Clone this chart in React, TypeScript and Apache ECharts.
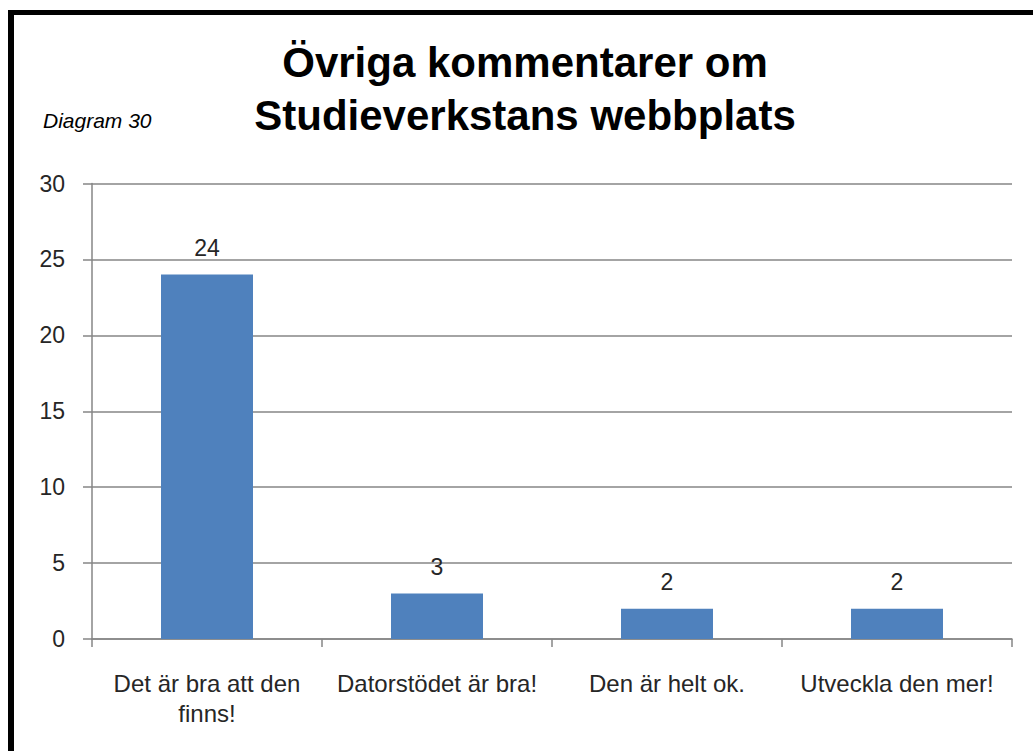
import React, { useEffect, useRef } from "react";
import * as echarts from "echarts";

const categories = [
  "Det är bra att den\nfinns!",
  "Datorstödet är bra!",
  "Den är helt ok.",
  "Utveckla den mer!",
];
const values = [24, 3, 2, 2];
const yTicks = { min: 0, max: 30, interval: 5 };
const titleLines = ["Övriga kommentarer om", "Studieverkstans webbplats"];
const subLabel = "Diagram 30";

export default function App() {
  const ref = useRef<HTMLDivElement>(null);
  useEffect(() => {
    document.body.style.margin = "0";
    const chart = echarts.init(ref.current!, null, { renderer: "svg" });
    const font = "'Liberation Sans', Arial, sans-serif";
    chart.setOption({
      animation: false,
      backgroundColor: "#ffffff",
      textStyle: { fontFamily: font },
      graphic: [
        { type: "rect", shape: { x: 8, y: 10, width: 6, height: 741 }, style: { fill: "#000" } },
        { type: "rect", shape: { x: 8, y: 10, width: 1025, height: 5 }, style: { fill: "#000" } },
        {
          type: "text",
          x: 525,
          y: 83,
          style: {
            text: titleLines[0],
            font: `bold 42px ${font}`,
            fill: "#000",
            align: "center",
            verticalAlign: "bottom",
          },
        },
        {
          type: "text",
          x: 525,
          y: 136,
          style: {
            text: titleLines[1],
            font: `bold 42px ${font}`,
            fill: "#000",
            align: "center",
            verticalAlign: "bottom",
          },
        },
        {
          type: "text",
          x: 43,
          y: 120,
          style: {
            text: subLabel,
            font: `italic 21px ${font}`,
            fill: "#000",
            align: "left",
            verticalAlign: "middle",
          },
        },
      ],
      grid: { left: 92, right: 21, top: 183.5, bottom: 112, containLabel: false },
      xAxis: {
        type: "category",
        data: categories,
        axisLine: { lineStyle: { color: "#868686", width: 1.5 } },
        axisTick: { show: true, length: 8, lineStyle: { color: "#868686", width: 1.5 }, alignWithLabel: false },
        axisLabel: {
          color: "#262626",
          fontSize: 24,
          fontFamily: font,
          lineHeight: 30,
          margin: 29,
          interval: 0,
        },
      },
      yAxis: {
        type: "value",
        min: yTicks.min,
        max: yTicks.max,
        interval: yTicks.interval,
        axisLine: { show: true, lineStyle: { color: "#868686", width: 1.5 } },
        axisTick: { show: true, length: 9, lineStyle: { color: "#868686", width: 1.5 } },
        splitLine: { show: true, lineStyle: { color: "#868686", width: 1.5 } },
        axisLabel: { color: "#262626", fontSize: 23, fontFamily: font, margin: 27 },
      },
      series: [
        {
          type: "bar",
          data: values,
          barWidth: "40%",
          itemStyle: { color: "#4F81BD" },
          label: {
            show: true,
            position: "top",
            distance: 15,
            color: "#262626",
            fontSize: 23,
            fontFamily: font,
          },
        },
      ],
    });
    return () => chart.dispose();
  }, []);
  return <div ref={ref} style={{ position: "absolute", left: 0, top: 0, width: 1033, height: 751 }} />;
}
